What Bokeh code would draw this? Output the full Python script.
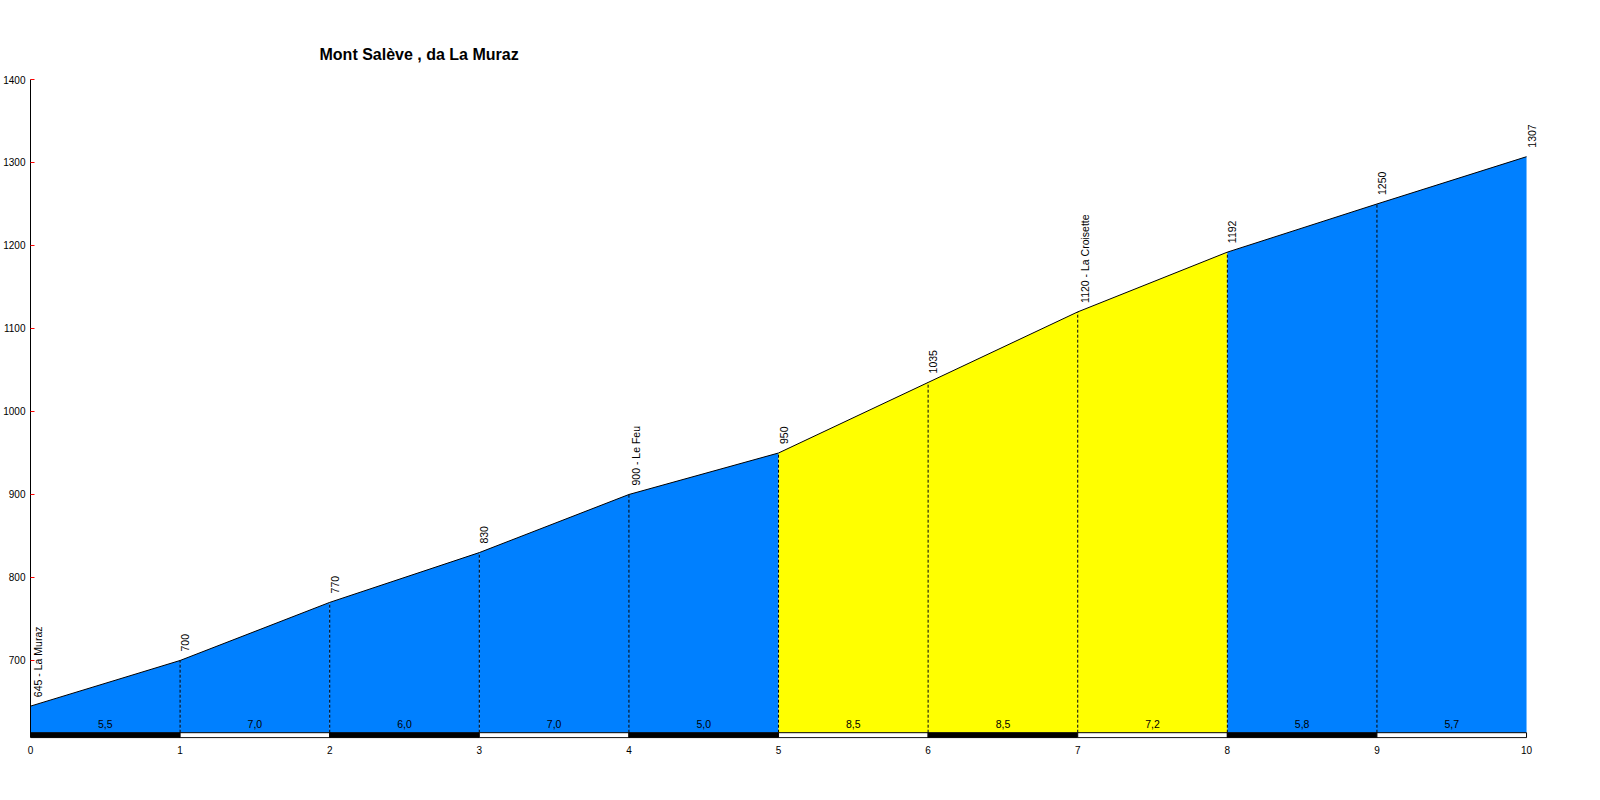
import math
from bokeh.plotting import figure
from bokeh.models import FixedTicker, Range1d
from bokeh.embed import file_html
from bokeh.resources import INLINE
from bokeh.core.properties import value

# ---- data ----
km = [0, 1, 2, 3, 4, 5, 6, 7, 8, 9, 10]
elev = [645, 700, 770, 830, 900, 950, 1035, 1120, 1192, 1250, 1307]
point_labels = ["645 - La Muraz", "700", "770", "830", "900 - Le Feu", "950",
                "1035", "1120 - La Croisette", "1192", "1250", "1307"]
grades = [5.5, 7.0, 6.0, 7.0, 5.0, 8.5, 8.5, 7.2, 5.8, 5.7]
grade_labels = ["5,5", "7,0", "6,0", "7,0", "5,0", "8,5", "8,5", "7,2", "5,8", "5,7"]
x_ticks = [0, 1, 2, 3, 4, 5, 6, 7, 8, 9, 10]
y_ticks = [700, 800, 900, 1000, 1100, 1200, 1300, 1400]
title_text = "Mont Salève , da La Muraz"

# ---- styling constants ----
FONT = "Liberation Sans"
BLUE = "#0080FF"
YELLOW = "#FFFF00"
BASE = 613.0      # bottom of the filled profile
BAR_BOTTOM = 607.0

p = figure(width=1584, height=784,
           x_range=Range1d(0, 10.1), y_range=Range1d(606, 1400),
           output_backend="svg", toolbar_location=None,
           min_border_left=30, min_border_right=43,
           min_border_top=79, min_border_bottom=46)
p.background_fill_color = "white"
p.border_fill_color = "white"
p.outline_line_color = None
p.xgrid.visible = False
p.ygrid.visible = False

# title
p.title.text = title_text
p.title.text_font = FONT
p.title.text_font_style = "bold"
p.title.text_font_size = "16px"
p.title.text_color = "black"
p.title.align = "left"
p.title.offset = 289
p.title.standoff = 33

# filled segments
xs, ys, cols = [], [], []
for i in range(len(km) - 1):
    xs.append([km[i], km[i], km[i + 1], km[i + 1]])
    ys.append([BASE, elev[i], elev[i + 1], BASE])
    cols.append(YELLOW if grades[i] > 7.0 else BLUE)
p.patches(xs, ys, fill_color=cols, line_color=None)

# profile outline
p.line(km, elev, line_color="black", line_width=1)

# dashed verticals
inner_x = km[1:-1]
inner_e = elev[1:-1]
p.segment(x0=inner_x, y0=[BASE] * len(inner_x), x1=inner_x, y1=inner_e,
          line_color="black", line_width=1, line_dash="3 2")

# bottom bar alternating black / white
bar_cols = ["black" if i % 2 == 0 else "white" for i in range(len(km) - 1)]
p.quad(left=km[:-1], right=km[1:], bottom=BAR_BOTTOM, top=BASE,
       fill_color=bar_cols, line_color="black", line_width=1)

# gradient labels
mids = [(km[i] + km[i + 1]) / 2 for i in range(len(km) - 1)]
p.text(x=mids, y=[BASE] * len(mids), text=grade_labels,
       text_align="center", text_baseline="bottom", y_offset=-5,
       text_font=value(FONT), text_font_size="10.5px", text_color="black")

# elevation labels (rotated)
p.text(x=km, y=elev, text=point_labels, angle=math.pi / 2,
       text_align="left", text_baseline="top", x_offset=1, y_offset=-9,
       text_font=value(FONT), text_font_size="10.5px", text_color="black")

# axes
xa = p.xaxis[0]
xa.ticker = FixedTicker(ticks=x_ticks)
xa.axis_line_color = None
xa.major_tick_line_color = None
xa.minor_tick_line_color = None
xa.major_tick_in = 0
xa.major_tick_out = 0
xa.major_label_standoff = 7
xa.major_label_text_font = FONT
xa.major_label_text_font_size = "10px"
xa.major_label_text_color = "black"

ya = p.yaxis[0]
ya.ticker = FixedTicker(ticks=y_ticks)
ya.bounds = (BAR_BOTTOM, 1400)
ya.axis_line_color = "black"
ya.major_tick_in = 4
ya.major_tick_out = 0
ya.major_tick_line_color = "red"
ya.minor_tick_line_color = None
ya.major_label_standoff = 5
ya.major_label_text_font = FONT
ya.major_label_text_font_size = "10px"
ya.major_label_text_color = "black"

open("out.html", "w").write(file_html(p, INLINE))
